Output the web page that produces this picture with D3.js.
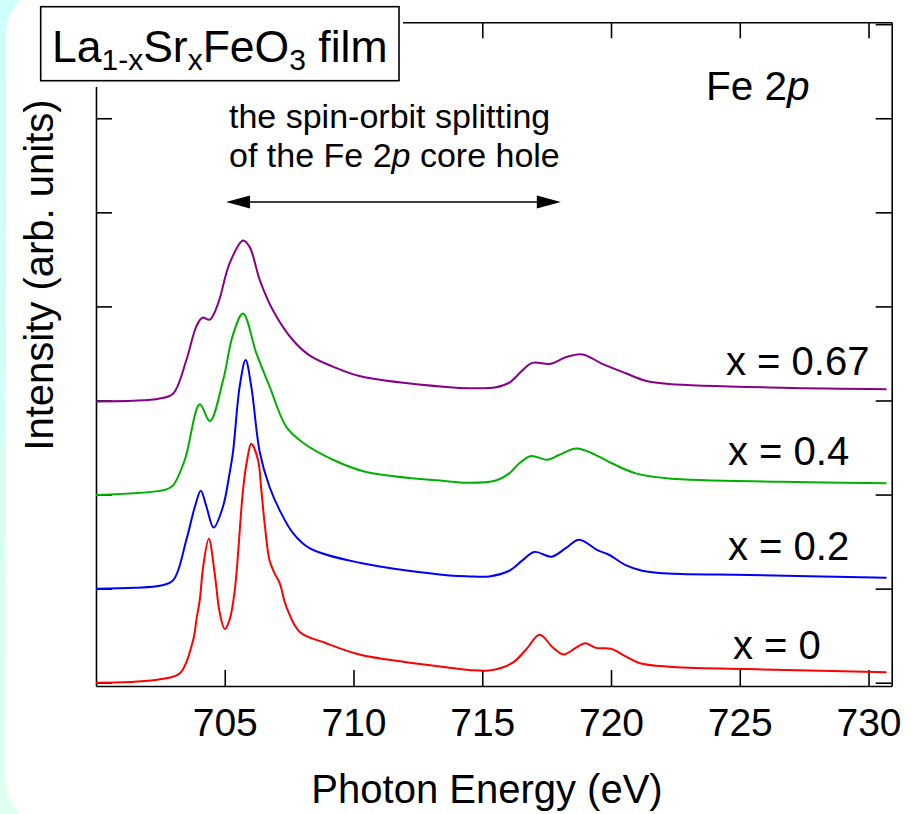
<!DOCTYPE html>
<html><head><meta charset="utf-8">
<script src="https://cdn.jsdelivr.net/npm/d3@7"></script>
<style>body{margin:0;background:#fff}svg{display:block}text{font-family:"Liberation Sans",Arial,sans-serif;fill:#000}</style>
</head><body>
<script>
// ---- data (energy in eV, intensity in arb. units incl. vertical offset) ----
const series = ["x = 0", "x = 0.2", "x = 0.4", "x = 0.67"];
const colors = ["#ff0000", "#0000ff", "#00b000", "#880088"];
const xTicks = [705, 710, 715, 720, 725, 730];
const yTicks = [0, 1, 2, 3, 4, 5, 6, 7];

const redE = [700.0,701.5,702.48,703.26,703.77,703.9,704.03,704.16,704.38,704.61,704.8,705.0,705.19,705.39,705.71,705.87,706.03,706.29,706.42,706.55,706.74,706.94,707.13,707.39,707.91,708.94,710.23,712.0,713.72,714.5,715.27,716.17,716.69,717.23,717.72,718.15,718.63,718.99,719.41,719.99,720.57,721.09,722.25,725.35,730.7];
const redI = [0.0,0.01,0.036,0.10,0.45,0.67,0.88,1.23,1.53,1.16,0.75,0.57,0.67,0.985,2.05,2.37,2.54,2.37,2.05,1.69,1.30,1.16,1.06,0.81,0.54,0.42,0.30,0.22,0.16,0.135,0.13,0.21,0.35,0.51,0.38,0.30,0.37,0.42,0.37,0.36,0.28,0.21,0.17,0.145,0.11];

const blueE = [700.0,701.5,702.48,703.0,703.51,703.84,704.07,704.29,704.57,704.93,705.19,705.32,705.58,705.81,706.03,706.36,706.74,707.13,707.65,708.29,710.23,713.72,714.5,715.27,716.05,716.56,717.02,717.70,718.24,718.76,719.47,719.92,720.57,721.21,722.25,725.35,730.7];
const blueI = [1.0,1.01,1.03,1.09,1.52,1.87,2.04,1.87,1.65,1.87,2.23,2.45,3.15,3.43,3.15,2.45,2.08,1.835,1.59,1.43,1.275,1.14,1.13,1.13,1.19,1.30,1.39,1.34,1.43,1.52,1.41,1.36,1.25,1.19,1.16,1.145,1.115];

const greenE = [700.0,702.74,703.0,703.45,704.03,704.42,704.94,705.32,705.71,706.23,706.74,707.39,708.04,709.2,710.49,713.72,714.5,715.53,716.05,716.43,716.89,717.53,717.98,718.66,719.41,720.05,720.96,722.25,726.64,730.7];
const greenI = [1.995,2.055,2.10,2.37,2.96,2.78,3.22,3.70,3.925,3.50,3.15,2.72,2.55,2.37,2.24,2.14,2.125,2.15,2.225,2.33,2.41,2.37,2.42,2.49,2.42,2.33,2.225,2.17,2.135,2.12];

const purpleE = [700.0,702.48,703.0,703.51,703.9,704.13,704.42,704.74,705.19,705.71,705.97,706.36,706.87,707.65,708.29,709.2,710.23,713.72,714.5,715.53,716.05,716.56,716.94,717.66,718.24,718.89,719.66,720.57,721.34,722.25,726.64,730.7];
const purpleI = [2.99,3.02,3.075,3.43,3.79,3.88,3.86,4.03,4.46,4.70,4.63,4.28,3.96,3.64,3.48,3.36,3.26,3.14,3.13,3.14,3.19,3.32,3.40,3.39,3.46,3.49,3.39,3.29,3.21,3.175,3.135,3.12];

const curvesE = [redE, blueE, greenE, purpleE];
const curvesI = [redI, blueI, greenI, purpleI];
const labelPos = [[733, 659], [728, 560], [728, 465], [726, 375]]; // label anchor (px)

// ---- layout ----
const W = 911, H = 814;
const svg = d3.select("body").append("svg").attr("width", W).attr("height", H);
const defs = svg.append("defs");
const g = defs.append("linearGradient").attr("id", "bg").attr("x1", 0).attr("y1", 0).attr("x2", 0).attr("y2", 1);
g.append("stop").attr("offset", "0%").attr("stop-color", "#ccfffd");
g.append("stop").attr("offset", "100%").attr("stop-color", "#e0ffee");
svg.append("rect").attr("width", W).attr("height", H).attr("fill", "url(#bg)");
svg.append("rect").attr("x", 6).attr("y", -14).attr("width", 1000).attr("height", 842).attr("rx", 48).attr("fill", "#fff");

const x = d3.scaleLinear().domain([700, 730.9]).range([96, 891.7]);
const y = d3.scaleLinear().domain([-0.035, 7.02]).range([686, 22.3]);

// axes (inward ticks, full frame)
const axStyle = sel => { sel.selectAll("path,line").attr("stroke", "#000").attr("stroke-width", 1.6); sel.selectAll("text").remove(); };
svg.append("g").attr("transform", `translate(0,${y.range()[0]})`)
  .call(d3.axisBottom(x).tickValues(xTicks).tickSizeInner(-16).tickSizeOuter(0).tickPadding(22).tickFormat(d3.format("d")))
  .call(s => { s.selectAll("path,line").attr("stroke", "#000").attr("stroke-width", 1.6);
               s.selectAll("text").attr("font-size", 39).attr("font-family", "Liberation Sans, Arial, sans-serif").attr("fill", "#000"); });
svg.append("g").attr("transform", `translate(0,${y.range()[1]})`)
  .call(d3.axisTop(x).tickValues(xTicks).tickSizeInner(-16).tickSizeOuter(0)).call(axStyle);
svg.append("g").attr("transform", `translate(${x.range()[0]},0)`)
  .call(d3.axisLeft(y).tickValues(yTicks).tickSizeInner(-16).tickSizeOuter(0)).call(axStyle);
svg.append("g").attr("transform", `translate(${x.range()[1]},0)`)
  .call(d3.axisRight(y).tickValues(yTicks).tickSizeInner(-16).tickSizeOuter(0)).call(axStyle);

// curves
const line = d3.line().x(d => x(d[0])).y(d => y(d[1])).curve(d3.curveCatmullRom.alpha(0.5));
series.forEach((s, i) => {
  const pts = curvesE[i].map((e, j) => [e, curvesI[i][j]]);
  svg.append("path").attr("d", line(pts)).attr("fill", "none").attr("stroke", colors[i]).attr("stroke-width", 2).attr("stroke-linejoin", "round");
  svg.append("text").attr("x", labelPos[i][0]).attr("y", labelPos[i][1]).attr("font-size", 40).text(s);
});

// title box (white margin hides frame corner)
svg.append("rect").attr("x", 30).attr("y", 0).attr("width", 373).attr("height", 87).attr("fill", "#fff");
svg.append("rect").attr("x", 40.7).attr("y", 6.7).attr("width", 358.3).attr("height", 74).attr("fill", "#fff").attr("stroke", "#000").attr("stroke-width", 1.6);
const t = svg.append("text").attr("x", 52).attr("y", 62).attr("font-size", 44.5);
t.append("tspan").text("La");
t.append("tspan").attr("font-size", 30).attr("dy", 8).text("1-x");
t.append("tspan").attr("dy", -8).text("Sr");
t.append("tspan").attr("font-size", 30).attr("dy", 8).text("x");
t.append("tspan").attr("dy", -8).text("FeO");
t.append("tspan").attr("font-size", 30).attr("dy", 8).text("3");
t.append("tspan").attr("dy", -8).text(" film");

// Fe 2p
const fe = svg.append("text").attr("x", 706).attr("y", 100).attr("font-size", 40.5);
fe.append("tspan").text("Fe 2");
fe.append("tspan").attr("font-style", "italic").text("p");

// annotation
svg.append("text").attr("x", 229).attr("y", 128).attr("font-size", 34).text("the spin-orbit splitting");
const a2 = svg.append("text").attr("x", 229).attr("y", 167).attr("font-size", 34);
a2.append("tspan").text("of the Fe 2");
a2.append("tspan").attr("font-style", "italic").text("p");
a2.append("tspan").text(" core hole");

const arrowE = [705.05, 718.05], arrowY = 5.11;
const ax0 = x(arrowE[0]), ax1 = x(arrowE[1]), ay = y(arrowY);
svg.append("line").attr("x1", ax0 + 10).attr("x2", ax1 - 10).attr("y1", ay).attr("y2", ay).attr("stroke", "#000").attr("stroke-width", 1.6);
svg.append("path").attr("d", `M${ax0},${ay} l24,-6.5 l0,13 z`).attr("fill", "#000");
svg.append("path").attr("d", `M${ax1},${ay} l-24,-6.5 l0,13 z`).attr("fill", "#000");

// axis titles
svg.append("text").attr("x", 487).attr("y", 803).attr("text-anchor", "middle").attr("font-size", 40).text("Photon Energy (eV)");
svg.append("text").attr("transform", "translate(53,275) rotate(-90)").attr("text-anchor", "middle").attr("font-size", 40).text("Intensity (arb. units)");
</script>
</body></html>
